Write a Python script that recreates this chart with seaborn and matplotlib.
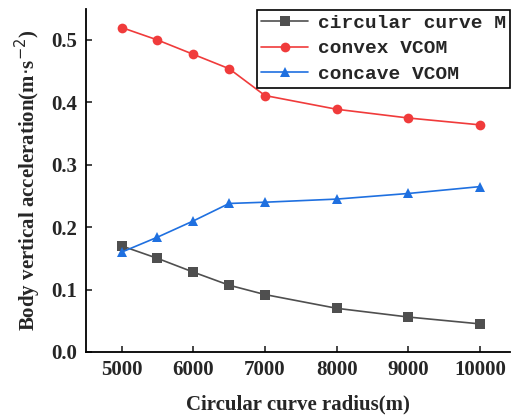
import matplotlib
matplotlib.use("Agg")
import matplotlib.pyplot as plt
import seaborn as sns
import pandas as pd

radius = [5000, 5500, 6000, 6500, 7000, 8000, 9000, 10000]
circular_curve_m = [0.170, 0.150, 0.128, 0.107, 0.092, 0.070, 0.056, 0.045]
convex_vcom = [0.520, 0.500, 0.477, 0.454, 0.411, 0.389, 0.375, 0.364]
concave_vcom = [0.160, 0.184, 0.210, 0.238, 0.240, 0.245, 0.254, 0.265]
series_names = ["circular curve M", "convex VCOM", "concave VCOM"]
x_ticks = [5000, 6000, 7000, 8000, 9000, 10000]
y_ticks = [0.0, 0.1, 0.2, 0.3, 0.4, 0.5]

df = pd.DataFrame({
    "radius": radius * 3,
    "value": circular_curve_m + convex_vcom + concave_vcom,
    "series": [s for s in series_names for _ in radius],
})

sns.set_style("ticks")
plt.rcParams["font.family"] = ["Liberation Serif", "DejaVu Serif"]

fig = plt.figure(figsize=(5.11, 4.19), dpi=100)
ax = fig.add_axes([0.168, 0.160, 0.830, 0.819])

palette = {"circular curve M": "#4f4f4f", "convex VCOM": "#f03b3b", "concave VCOM": "#1f70e0"}
markers = {"circular curve M": "s", "convex VCOM": "o", "concave VCOM": "^"}

sns.lineplot(data=df, x="radius", y="value", hue="series", style="series",
             palette=palette, markers=markers, dashes=False, markersize=7,
             linewidth=1.2, markeredgewidth=0, ax=ax)

ax.set_xlim(4500, 10420)
ax.set_ylim(0, 0.55)
ax.set_xticks(x_ticks)
ax.set_yticks(y_ticks)
ax.set_yticklabels([f"{v:.1f}" for v in y_ticks])
ax.tick_params(direction="in", length=4, width=1.2, labelsize=15, pad=6)
for lab in ax.get_xticklabels() + ax.get_yticklabels():
    lab.set_fontweight("bold")

for side in ["top", "right"]:
    ax.spines[side].set_visible(False)
for side in ["left", "bottom"]:
    ax.spines[side].set_linewidth(1.3)
    ax.spines[side].set_color("black")

ax.set_xlabel("Circular curve radius(m)", fontsize=15, fontweight="bold", labelpad=10)
ax.set_ylabel(r"Body vertical acceleration(m$\cdot$s$^{-2}$)", fontsize=15,
              fontweight="bold", labelpad=6)

leg = ax.legend(loc="upper right", bbox_to_anchor=(1.0, 0.997), frameon=True,
                fancybox=False, edgecolor="black", framealpha=1,
                prop={"family": "Liberation Mono", "size": 14, "weight": "bold"},
                handlelength=2.4, borderpad=0.22, labelspacing=0.42, handletextpad=0.5,
                borderaxespad=0.0)
leg.get_frame().set_linewidth(1.2)
leg.set_title(None)

fig.savefig("out.png", dpi=100)
